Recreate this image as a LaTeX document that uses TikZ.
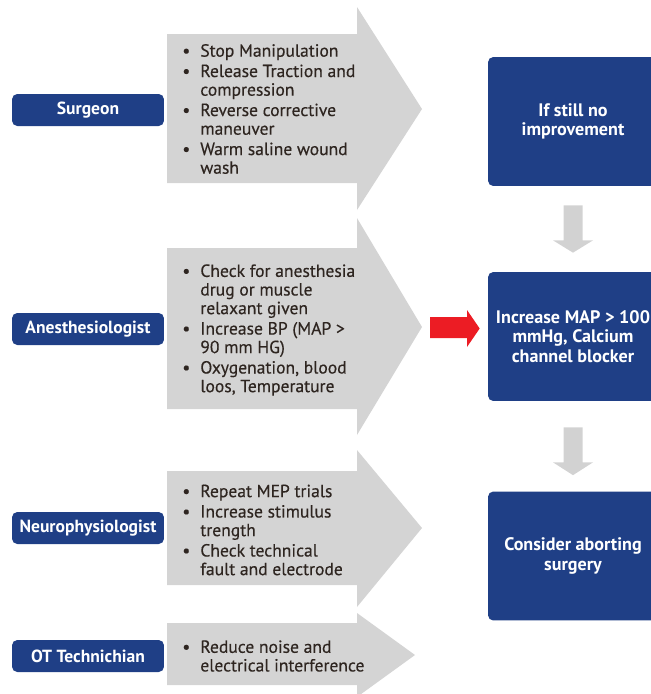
\documentclass[tikz,border=0pt]{standalone}
\usepackage{fontspec}
\setmainfont{PT Sans}
\newfontfamily\listfont[FakeBold=0.35]{PT Sans}
\usetikzlibrary{calc, positioning}

\definecolor{roleblue}{HTML}{1F3F86}
\definecolor{flowgrey}{HTML}{D4D4D4}
\definecolor{downgrey}{HTML}{D2D2D2}
\definecolor{alertred}{HTML}{EC1C24}
\definecolor{listink}{HTML}{2E2520}

\newcommand{\bl}{\makebox[0.36cm][l]{\textbullet}}
\newcommand{\ind}{\hspace*{0.36cm}}

\begin{document}
\begin{tikzpicture}[x=0.02cm, y=-0.02cm, every node/.style={font=\fontsize{10pt}{11pt}\selectfont}]
  \tikzset{role/.style={fill=roleblue, text=white, rounded corners=3pt, minimum width=3.04cm, minimum height=0.64cm, align=center, font=\fontsize{10pt}{11pt}\selectfont\bfseries},
           action/.style={fill=roleblue, text=white, rounded corners=3pt, minimum width=3.4cm, minimum height=2.58cm, align=center, font=\fontsize{10.3pt}{11pt}\selectfont\bfseries},
           list/.style={anchor=west, align=left, inner sep=0pt, text=listink, font=\fontsize{10pt}{10.6pt}\selectfont\listfont}}
  \useasboundingbox (0,0) rectangle (650,694);

  % grey block arrows behind the lists
  \fill[flowgrey] (167,34) -- (357,34) -- (357,7) -- (422,109) -- (357,210) -- (357,183) -- (167,183) -- cycle;
  \fill[flowgrey] (167,248) -- (357,248) -- (357,218) -- (422,327) -- (357,435) -- (357,409) -- (167,409) -- cycle;
  \fill[flowgrey] (167,471) -- (357,471) -- (357,450) -- (422,528) -- (357,607) -- (357,585) -- (167,585) -- cycle;
  \fill[flowgrey] (167,623) -- (357,623) -- (357,613) -- (415,655) -- (357,697) -- (357,685) -- (167,685) -- cycle;

  \node[role] (surgeon) at (88,110) {Surgeon};
  \node[role] (anest) at (88,329) {Anesthesiologist};
  \node[role] (neuro) at (88,528) {Neurophysiologist};
  \node[role] (ottech) at (88,656) {OT Technichian};

  \node[list] (surgeonlist) at (182,109) {\bl Stop Manipulation\\[1pt]
    \bl Release Traction and\\ \ind compression\\[1pt]
    \bl Reverse corrective\\ \ind maneuver\\[1pt]
    \bl Warm saline wound\\ \ind wash};
  \node[list] (anestlist) at (182,330) {\bl Check for anesthesia\\ \ind drug or muscle\\ \ind relaxant given\\[1pt]
    \bl Increase BP (MAP >\\ \ind 90 mm HG)\\[1pt]
    \bl Oxygenation, blood\\ \ind loos, Temperature};
  \node[list] (neurolist) at (182,530) {\bl Repeat MEP trials\\[1pt]
    \bl Increase stimulus\\ \ind trength\\[1pt]
    \bl Check technical\\ \ind fault and electrode};
  \node[list] (otlist) at (182,656) {\bl Reduce noise and\\ \ind electrical interference};

  \node[action] (still) at (573,121.5) {If still no\\improvement};
  \node[action] (map) at (573,336.5) {Increase MAP > 100\\mmHg, Calcium\\channel blocker};
  \node[action] (abort) at (573,556) {Consider aborting\\surgery};

  % red arrow from the anesthesia measures
  \coordinate (anesttip) at (422,327);
  \fill[alertred] ($(anesttip)+(8,-10)$) -- ($(anesttip)+(45,-10)$) -- ($(anesttip)+(45,-17)$) -- ($(map.west)+(-8,-8)$)
    -- ($(anesttip)+(45,20)$) -- ($(anesttip)+(45,11)$) -- ($(anesttip)+(8,11)$) -- cycle;

  % grey down arrows between the actions
  \fill[downgrey] ($(still.south)+(-9.5,19)$) -- ($(still.south)+(9.5,19)$) -- ($(still.south)+(9.5,54)$) -- ($(still.south)+(20,54)$)
    -- ($(map.north)+(0,-19)$) -- ($(still.south)+(-20,54)$) -- ($(still.south)+(-9.5,54)$) -- cycle;
  \fill[downgrey] ($(map.south)+(-9.5,26)$) -- ($(map.south)+(9.5,26)$) -- ($(map.south)+(9.5,61)$) -- ($(map.south)+(20,61)$)
    -- ($(abort.north)+(0,-16)$) -- ($(map.south)+(-20,61)$) -- ($(map.south)+(-9.5,61)$) -- cycle;
\end{tikzpicture}
\end{document}
